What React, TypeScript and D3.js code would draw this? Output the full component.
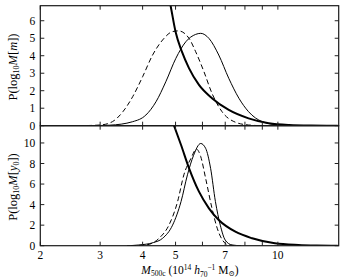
import * as d3 from "d3";

// top panel: P(log10 M | m)
const massTopSolid = [2.8, 3.2, 3.74, 4.09, 4.38, 4.68, 5.01, 5.36, 5.73, 5.93, 6.27, 6.7, 7.17, 7.68, 8.2, 9.0, 10.1, 11.5];
const probTopSolid = [0, 0.03, 0.23, 0.61, 1.37, 2.51, 3.85, 4.8, 5.22, 5.28, 4.99, 4.04, 2.71, 1.57, 0.8, 0.23, 0.04, 0];

const massTopDashed = [2.6, 3.0, 3.26, 3.5, 3.74, 4.0, 4.28, 4.58, 4.9, 5.1, 5.48, 5.73, 6.06, 6.4, 6.85, 7.52, 8.2, 9.0];
const probTopDashed = [0, 0.04, 0.23, 0.8, 1.66, 2.8, 4.04, 4.9, 5.38, 5.42, 4.99, 4.23, 3.09, 1.85, 0.8, 0.19, 0.04, 0];

const massTopPrior = [4.72, 4.83, 5.0, 5.22, 5.48, 5.86, 6.4, 7.17, 8.2, 9.4, 10.8, 12.5, 15];
const probTopPrior = [7.8, 6.9, 5.37, 4.23, 3.28, 2.33, 1.57, 0.9, 0.42, 0.14, 0.04, 0.01, 0];

// bottom panel: P(log10 M | y0)
const massBotSolid = [3.6, 3.9, 4.3, 4.58, 4.9, 5.19, 5.42, 5.65, 5.93, 6.13, 6.34, 6.55, 6.77, 7.0, 7.33, 7.8];
const probBotSolid = [0, 0.07, 0.3, 0.72, 2.0, 4.3, 6.9, 8.8, 9.95, 9.48, 7.53, 4.3, 2.0, 0.55, 0.07, 0];

const massBotDashed = [3.7, 4.09, 4.47, 4.78, 5.07, 5.29, 5.55, 5.76, 5.93, 6.13, 6.4, 6.63, 7.0, 7.2, 7.6];
const probBotDashed = [0, 0.07, 0.72, 2.0, 4.3, 6.9, 8.5, 9.4, 8.67, 6.56, 3.64, 1.7, 0.23, 0.05, 0];

const massBotPrior = [4.82, 4.94, 5.19, 5.48, 5.86, 6.27, 6.7, 7.5, 8.4, 9.8, 11.5, 13, 15];
const probBotPrior = [12.7, 11.75, 9.8, 7.53, 5.26, 3.64, 2.5, 1.36, 0.72, 0.23, 0.07, 0.02, 0];

const xTicks = [2, 3, 4, 5, 6, 7, 8, 9, 10];
const xTickLabels = [2, 3, 4, 5, 7, 10];
const yTicksTop = [0, 1, 2, 3, 4, 5, 6];
const yTicksBot = [0, 2, 4, 6, 8, 10];

const W = 343;
const H = 280;
const left = 40.3;
const right = 338.7;
const font = "'Liberation Serif', 'DejaVu Serif', serif";
const tick = 4;

const x = d3.scaleLog().domain([2, 15.1]).range([left, right]);
const yTop = d3.scaleLinear().domain([0, 6.86]).range([125.7, 5.7]);
const yBot = d3.scaleLinear().domain([0, 11.68]).range([245.7, 125.7]);

function makePath(ms: number[], ps: number[], y: d3.ScaleLinear<number, number>) {
    const line = d3
        .line<number>()
        .x((_, i) => x(ms[i]))
        .y(d => y(d))
        .curve(d3.curveMonotoneX);
    return line(ps) || "";
}

function Panel({ y, ticks, id, curves }: {
    y: d3.ScaleLinear<number, number>;
    ticks: number[];
    id: string;
    curves: { m: number[]; p: number[]; width: number; dash?: string }[];
}) {
    const [y0, y1] = y.range();
    return (
        <g>
            <defs>
                <clipPath id={id}>
                    <rect x={left} y={y1} width={right - left} height={y0 - y1} />
                </clipPath>
            </defs>
            <g clipPath={`url(#${id})`}>
                {curves.map((c, i) => (
                    <path
                        key={i}
                        d={makePath(c.m, c.p, y)}
                        fill="none"
                        stroke="#000"
                        strokeWidth={c.width}
                        strokeDasharray={c.dash}
                    />
                ))}
            </g>
            {xTicks.map(t => (
                <g key={t} stroke="#222" strokeWidth={1}>
                    <line x1={x(t)} x2={x(t)} y1={y0} y2={y0 - tick} />
                    <line x1={x(t)} x2={x(t)} y1={y1} y2={y1 + tick} />
                </g>
            ))}
            {ticks.map(t => (
                <g key={t}>
                    <line x1={left} x2={left + tick} y1={y(t)} y2={y(t)} stroke="#222" />
                    <line x1={right} x2={right - tick} y1={y(t)} y2={y(t)} stroke="#222" />
                    <text x={left - 5} y={y(t)} dy="0.35em" textAnchor="end" fontSize={11.5}>
                        {t}
                    </text>
                </g>
            ))}
            <rect x={left} y={y1} width={right - left} height={y0 - y1} fill="none" stroke="#1a1a1a" strokeWidth={1.2} />
        </g>
    );
}

export default function App() {
    return (
        <svg width={W} height={H} style={{ position: "absolute", left: 0, top: 0, background: "#fff" }} fontFamily={font}>
            <Panel
                y={yTop}
                ticks={yTicksTop}
                id="clipTop"
                curves={[
                    { m: massTopSolid, p: probTopSolid, width: 1 },
                    { m: massTopDashed, p: probTopDashed, width: 1, dash: "5,3" },
                    { m: massTopPrior, p: probTopPrior, width: 2 },
                ]}
            />
            <Panel
                y={yBot}
                ticks={yTicksBot}
                id="clipBot"
                curves={[
                    { m: massBotSolid, p: probBotSolid, width: 1 },
                    { m: massBotDashed, p: probBotDashed, width: 1, dash: "5,3" },
                    { m: massBotPrior, p: probBotPrior, width: 2 },
                ]}
            />
            {xTickLabels.map(t => (
                <text key={t} x={x(t)} y={259} textAnchor="middle" fontSize={11.5}>
                    {t}
                </text>
            ))}
            <text x={190} y={274} textAnchor="middle" fontSize={11.5}>
                <tspan fontStyle="italic">M</tspan>
                <tspan fontSize={7.5} dy={2}>500c</tspan>
                <tspan dy={-2}> (10</tspan>
                <tspan fontSize={7.5} dy={-4}>14</tspan>
                <tspan dy={4}> </tspan>
                <tspan fontStyle="italic">h</tspan>
                <tspan fontSize={7.5} dy={3}>70</tspan>
                <tspan fontSize={7.5} dy={-7}>−1</tspan>
                <tspan dy={4}> M</tspan>
                <tspan fontSize={7.5} dy={2}>⊙</tspan>
                <tspan dy={-2}>)</tspan>
            </text>
            <text transform="translate(17,67) rotate(-90)" textAnchor="middle" fontSize={12.5}>
                P(log
                <tspan fontSize={8} dy={2}>10</tspan>
                <tspan fontStyle="italic" dy={-2}>M</tspan>
                [<tspan fontStyle="italic">m</tspan>])
            </text>
            <text transform="translate(17,187) rotate(-90)" textAnchor="middle" fontSize={12.5}>
                P(log
                <tspan fontSize={8} dy={2}>10</tspan>
                <tspan fontStyle="italic" dy={-2}>M</tspan>
                [<tspan fontStyle="italic">y</tspan>
                <tspan fontSize={8} dy={2}>0</tspan>
                <tspan dy={-2}>])</tspan>
            </text>
        </svg>
    );
}
